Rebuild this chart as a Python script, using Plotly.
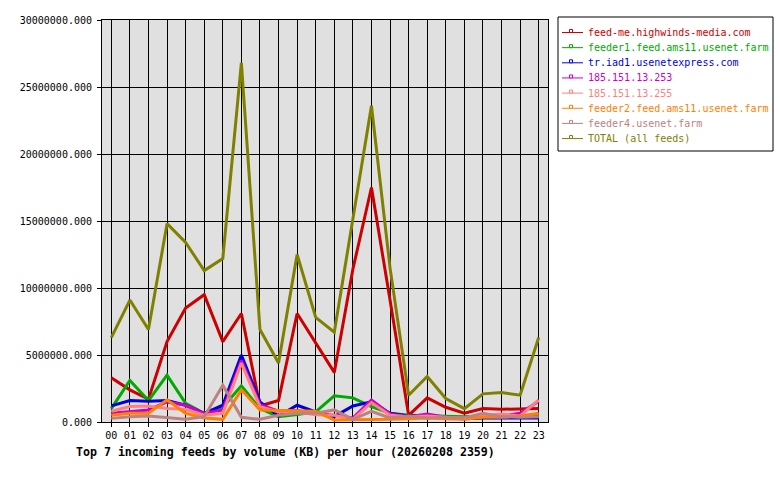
import plotly.graph_objects as go

hours = [f"{h:02d}" for h in range(24)]
hour_idx = list(range(24))

names = [
    "feed-me.highwinds-media.com",
    "feeder1.feed.ams11.usenet.farm",
    "tr.iad1.usenetexpress.com",
    "185.151.13.253",
    "185.151.13.255",
    "feeder2.feed.ams11.usenet.farm",
    "feeder4.usenet.farm",
    "TOTAL (all feeds)",
]
colors = ["#cc0000", "#00aa00", "#0000dd", "#cc00cc", "#ff8080", "#ff8000", "#c08080", "#808000"]

# values in millions of KB
feedme = [3.3, 2.4, 1.7, 6.0, 8.5, 9.5, 6.0, 8.1, 1.2, 1.6, 8.1, 5.9, 3.7, 11.4, 17.5, 9.1, 0.5, 1.8, 1.1, 0.65, 1.0, 0.95, 0.95, 1.0]
feeder1 = [1.0, 3.1, 1.6, 3.5, 1.4, 0.65, 1.1, 2.7, 1.0, 0.4, 0.55, 0.75, 1.95, 1.8, 1.15, 0.65, 0.5, 0.45, 0.4, 0.4, 0.45, 0.45, 0.4, 0.45]
iad1 = [1.2, 1.6, 1.55, 1.6, 1.25, 0.65, 1.25, 5.0, 1.5, 0.45, 1.25, 0.75, 0.4, 1.2, 1.5, 0.65, 0.45, 0.5, 0.3, 0.25, 0.3, 0.3, 0.25, 0.3]
ip253 = [0.65, 0.77, 0.9, 1.5, 1.25, 0.65, 0.9, 4.6, 1.3, 0.8, 0.85, 0.6, 0.5, 0.3, 1.65, 0.6, 0.4, 0.6, 0.35, 0.3, 0.45, 0.45, 0.65, 1.55]
ip255 = [0.8, 1.15, 1.2, 1.0, 0.95, 0.5, 0.65, 4.4, 1.15, 0.75, 0.75, 0.55, 0.5, 0.2, 1.45, 0.5, 0.4, 0.45, 0.35, 0.3, 0.5, 0.6, 0.45, 1.65]
feeder2 = [0.5, 0.65, 0.65, 1.65, 0.65, 0.3, 0.2, 2.4, 0.9, 0.85, 0.85, 0.8, 0.15, 0.15, 0.15, 0.2, 0.25, 0.3, 0.25, 0.2, 0.35, 0.35, 0.45, 0.65]
feeder4 = [0.27, 0.4, 0.45, 0.35, 0.2, 0.4, 2.75, 0.35, 0.2, 0.5, 0.65, 0.65, 0.9, 0.2, 0.8, 0.3, 0.45, 0.3, 0.35, 0.3, 0.65, 0.4, 0.35, 0.4]
total = [6.3, 9.1, 6.9, 14.8, 13.4, 11.3, 12.2, 26.8, 6.9, 4.4, 12.5, 7.8, 6.7, 15.2, 23.6, 11.5, 2.0, 3.4, 1.75, 1.0, 2.1, 2.2, 2.0, 6.3]

series = [feedme, feeder1, iad1, ip253, ip255, feeder2, feeder4, total]

title_text = "Top 7 incoming feeds by volume (KB) per hour (20260208 2359)"
FONT = "DejaVu Sans Mono"

# plot area in pixels
L, R, T, B = 102, 548, 20, 422
W, H = 780, 480

def px2x(px):
    return (px - L) / (R - L)

def px2y(py):
    return (B - py) / (B - T)

fig = go.Figure()
for name, col, vals in zip(names, colors, series):
    fig.add_trace(go.Scatter(
        x=hour_idx, y=[v * 1e6 for v in vals], mode="lines", name=name,
        line=dict(color=col, width=3), showlegend=False, hoverinfo="x+y+name",
    ))

shapes = []
annotations = []
# legend box
shapes.append(dict(type="rect", xref="paper", yref="paper",
                   x0=px2x(558), x1=px2x(773), y0=px2y(151), y1=px2y(17),
                   line=dict(color="black", width=1), fillcolor="white", layer="above"))
for i, (name, col) in enumerate(zip(names, colors)):
    yc = 32.5 + i * 15.15
    shapes.append(dict(type="line", xref="paper", yref="paper",
                       x0=px2x(562), x1=px2x(583), y0=px2y(yc), y1=px2y(yc),
                       line=dict(color=col, width=1), layer="above"))
    shapes.append(dict(type="rect", xref="paper", yref="paper",
                       x0=px2x(569.5), x1=px2x(572.5), y0=px2y(yc), y1=px2y(yc - 3),
                       line=dict(color=col, width=1), fillcolor="white", layer="above"))
    annotations.append(dict(xref="paper", yref="paper", x=px2x(586), y=px2y(yc),
                            xanchor="left", yanchor="middle", showarrow=False,
                            text=name, font=dict(family=FONT, size=10, color=col)))

annotations.append(dict(xref="paper", yref="paper", x=px2x(74), y=px2y(452),
                        xanchor="left", yanchor="middle", showarrow=False,
                        text=f"<b>{title_text}</b>",
                        font=dict(family=FONT, size=11.6, color="black")))

fig.update_layout(
    width=W, height=H,
    margin=dict(l=L, r=W - R, t=T, b=H - B, pad=0),
    paper_bgcolor="white", plot_bgcolor="#e0e0e0",
    shapes=shapes, annotations=annotations, showlegend=False,
    font=dict(family=FONT, size=10, color="black"),
)
fig.update_xaxes(
    range=[-0.5, 23.5], tickvals=hour_idx, ticktext=hours,
    showgrid=True, gridcolor="black", gridwidth=1,
    showline=True, linecolor="black", linewidth=1, mirror=True,
    ticks="outside", ticklen=4, tickcolor="black", zeroline=False,
    tickfont=dict(family=FONT, size=10, color="black"), fixedrange=True,
)
fig.update_yaxes(
    range=[0, 30e6], dtick=5e6, tick0=0, tickformat=".3f",
    showgrid=True, gridcolor="black", gridwidth=1,
    showline=True, linecolor="black", linewidth=1, mirror=True,
    ticks="outside", ticklen=4, tickcolor="black", zeroline=False,
    ticklabelstandoff=3,
    tickfont=dict(family=FONT, size=10, color="black"), fixedrange=True,
)

fig.write_html("out.html")
